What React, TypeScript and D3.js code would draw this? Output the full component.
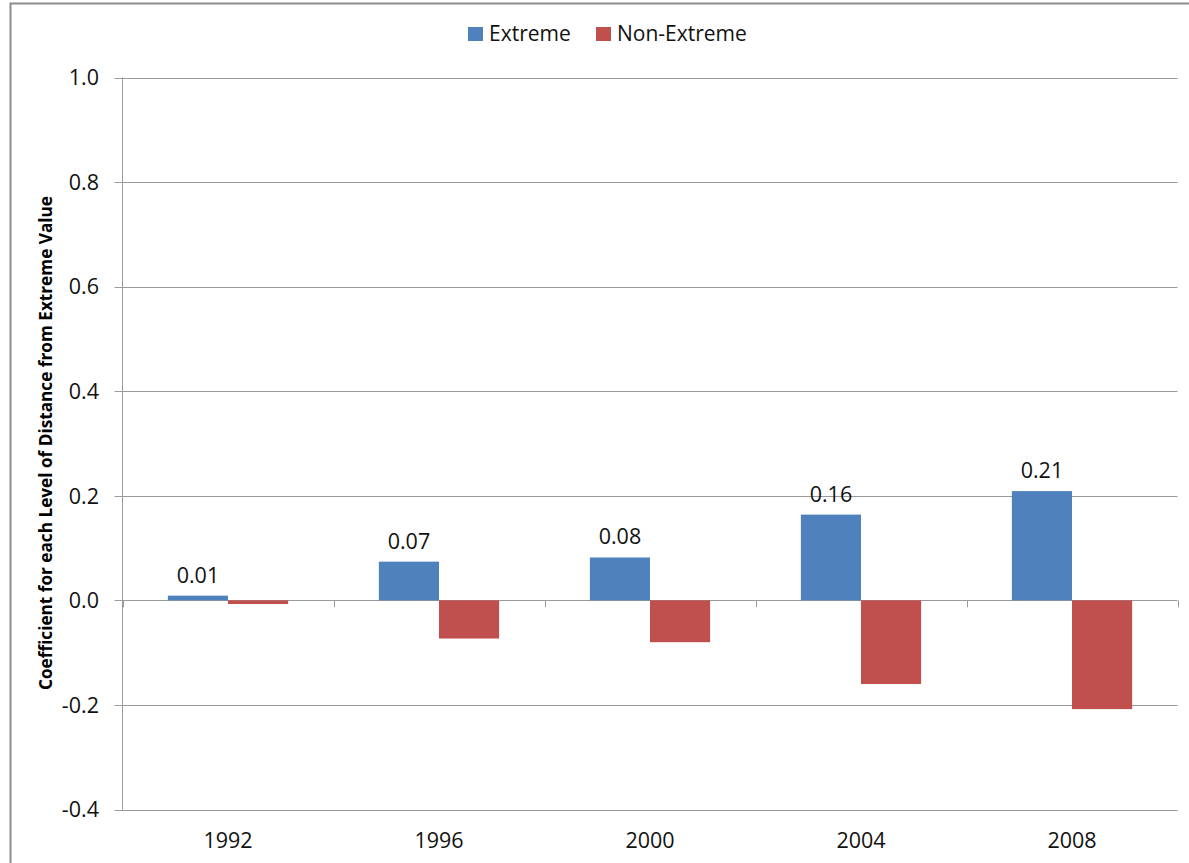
import React from "react";
import * as d3 from "d3";

const years = ["1992", "1996", "2000", "2004", "2008"];
const seriesNames = ["Extreme", "Non-Extreme"];
const extremeValues = [0.009, 0.074, 0.082, 0.164, 0.209];
const nonExtremeValues = [-0.007, -0.073, -0.080, -0.160, -0.208];
const yTicks = [-0.4, -0.2, 0.0, 0.2, 0.4, 0.6, 0.8, 1.0];

const W = 1189;
const H = 863;
const plot = { left: 122.5, right: 1177.5, top: 77.5, bottom: 809.5 };
const colors = ["#4F81BD", "#C0504D"];
const font = "'Open Sans', sans-serif";
const textColor = "#111";

export default function App() {
  const x = d3.scaleBand<string>().domain(years).range([plot.left, plot.right]).paddingInner(0).paddingOuter(0);
  const y = d3.scaleLinear().domain([-0.4, 1.0]).range([plot.bottom, plot.top]);
  const barW = x.bandwidth() * 0.285;
  const inner = d3.scaleBand<string>().domain(seriesNames).range([0, barW * 2]);
  const groupOffset = (x.bandwidth() - barW * 2) / 2;
  const fmt = d3.format(".2f");
  // hyphen-minus rather than the typographic minus d3 uses by default
  const tickFmt = (t: number) => d3.format(".1f")(t).replace("\u2212", "-");
  const series = [extremeValues, nonExtremeValues];
  const y0 = y(0);

  return (
    <svg width={W} height={H} style={{ position: "absolute", left: 0, top: 0, background: "#fff" }} fontFamily={font}>
      {/* chart frame */}
      <rect x={10.5} y={3.5} width={W + 20} height={H + 20} fill="none" stroke="#8c8c8c" strokeWidth={2} />

      {/* gridlines and y ticks */}
      {yTicks.map((t) => (
        <g key={t}>
          <line x1={plot.left - 8} x2={plot.right} y1={Math.round(y(t)) + 0.5} y2={Math.round(y(t)) + 0.5} stroke="#9a9a9a" strokeWidth={1} />
          <text x={99} y={y(t)} dy="0.36em" textAnchor="end" fontSize={21.5} fill={textColor}>
            {Math.abs(t) < 1e-9 ? "0.0" : tickFmt(t)}
          </text>
        </g>
      ))}

      {/* y axis line */}
      <line x1={plot.left} x2={plot.left} y1={plot.top} y2={plot.bottom} stroke="#9a9a9a" strokeWidth={1} />

      {/* category ticks along the zero line */}
      {[...years.map((yr) => x(yr) as number), plot.right].map((px, i) => (
        <line key={i} x1={Math.round(px) + 0.5} x2={Math.round(px) + 0.5} y1={y0} y2={y0 + 7} stroke="#9a9a9a" strokeWidth={1} />
      ))}

      {/* bars */}
      {series.map((vals, si) =>
        vals.map((v, i) => {
          const bx = (x(years[i]) as number) + groupOffset + (inner(seriesNames[si]) as number);
          const top = Math.min(y(v), y0);
          const h = Math.abs(y(v) - y0);
          return <rect key={`${si}-${i}`} x={bx} y={top} width={inner.bandwidth()} height={h} fill={colors[si]} />;
        })
      )}

      {/* value labels on Extreme bars */}
      {extremeValues.map((v, i) => {
        const cx = (x(years[i]) as number) + groupOffset + (inner(seriesNames[0]) as number) + inner.bandwidth() / 2;
        return (
          <text key={i} x={cx} y={y(v) - 13} textAnchor="middle" fontSize={21.5} fill={textColor}>
            {fmt(v)}
          </text>
        );
      })}

      {/* category labels */}
      {years.map((yr) => (
        <text key={yr} x={(x(yr) as number) + x.bandwidth() / 2} y={848} textAnchor="middle" fontSize={21.5} fill={textColor}>
          {yr}
        </text>
      ))}

      {/* y axis title */}
      <text transform={`translate(52, 443) rotate(-90)`} textAnchor="middle" fontSize={17.2} fontWeight="bold" fill="#000">
        Coefficient for each Level of Distance from Extreme Value
      </text>

      {/* legend */}
      {seriesNames.map((name, i) => {
        const lx = [468, 596][i];
        return (
          <g key={name}>
            <rect x={lx} y={27} width={15} height={14} fill={colors[i]} />
            <text x={lx + 21} y={41} fontSize={21} fill={textColor}>
              {name}
            </text>
          </g>
        );
      })}
    </svg>
  );
}
